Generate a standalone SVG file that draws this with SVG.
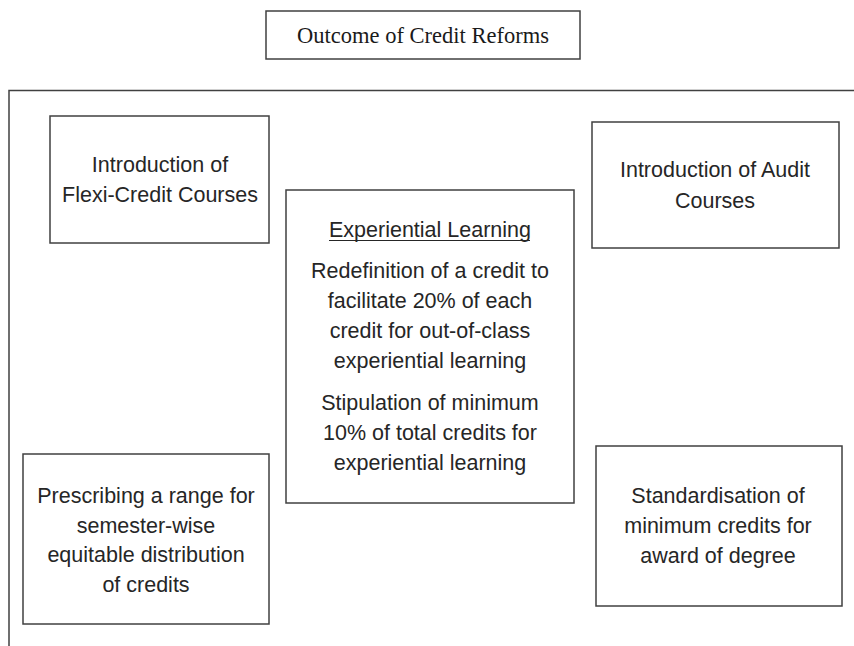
<svg xmlns="http://www.w3.org/2000/svg" width="854" height="646" viewBox="0 0 854 646">
<style>
.box{fill:#fff;stroke:#404040;stroke-width:1.5}
.frame{fill:none;stroke:#404040;stroke-width:1.5}
.t{font-family:"Liberation Sans",Arial,sans-serif;font-size:21.5px;fill:#262626;text-anchor:middle}
.title{font-family:"Liberation Serif","Times New Roman",serif;font-size:22.5px;fill:#1a1a1a;text-anchor:middle}
</style>
<rect width="854" height="646" fill="#fff"/>
<g id="frame"><path class="frame" d="M9,646 V90.5 H854"/></g>
<g id="title"><rect class="box" x="266" y="11" width="314" height="48"/><text class="title" x="423" y="43">Outcome of Credit Reforms</text></g>
<g id="flexi"><rect class="box" x="50" y="116" width="219" height="127"/>
<text class="t" x="160" y="172">Introduction of</text><text class="t" x="160" y="202">Flexi-Credit Courses</text></g>
<g id="audit"><rect class="box" x="592" y="122" width="247" height="126"/>
<text class="t" x="715" y="177">Introduction of Audit</text><text class="t" x="715" y="208">Courses</text></g>
<g id="experiential"><rect class="box" x="286" y="190" width="288" height="313"/>
<text class="t" x="430" y="237">Experiential Learning</text>
<line x1="329" y1="240.5" x2="530" y2="240.5" stroke="#262626" stroke-width="1.2"/>
<text class="t" x="430" y="278">Redefinition of a credit to</text>
<text class="t" x="430" y="308">facilitate 20% of each</text>
<text class="t" x="430" y="338">credit for out-of-class</text>
<text class="t" x="430" y="368">experiential learning</text>
<text class="t" x="430" y="410">Stipulation of minimum</text>
<text class="t" x="430" y="440">10% of total credits for</text>
<text class="t" x="430" y="470">experiential learning</text></g>
<g id="prescribing"><rect class="box" x="23" y="454" width="246" height="170"/>
<text class="t" x="146" y="503">Prescribing a range for</text>
<text class="t" x="146" y="533">semester-wise</text>
<text class="t" x="146" y="562">equitable distribution</text>
<text class="t" x="146" y="592">of credits</text></g>
<g id="standardisation"><rect class="box" x="596" y="446" width="246" height="160"/>
<text class="t" x="718" y="503">Standardisation of</text>
<text class="t" x="718" y="533">minimum credits for</text>
<text class="t" x="718" y="563">award of degree</text></g>
<g id="connectors"></g>
</svg>
